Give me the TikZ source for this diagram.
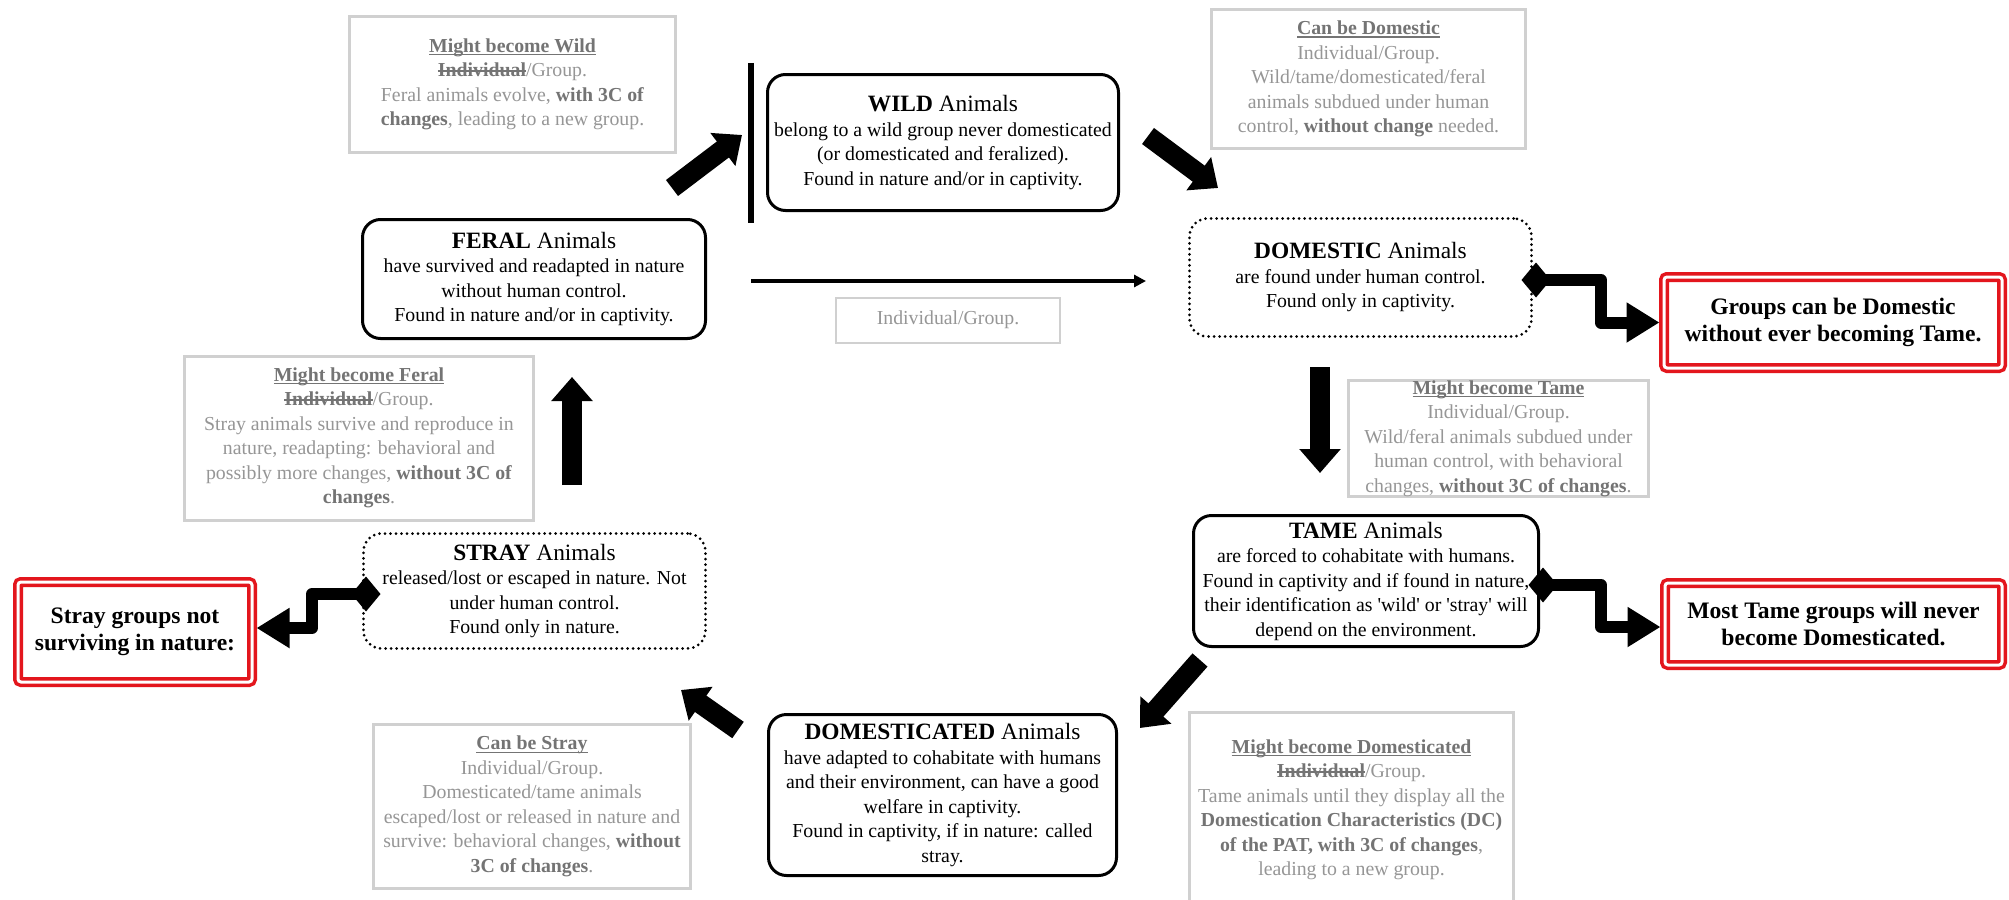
\documentclass[tikz,border=0pt]{standalone}
\usepackage{fontspec}
\setmainfont{Liberation Serif}
\newfontfamily\plainrm{Liberation Serif}
\usetikzlibrary{arrows.meta,calc}
\definecolor{boxgray}{HTML}{D0D0D0}
\definecolor{txtgray}{HTML}{969696}
\definecolor{gdark}{HTML}{747474}
\definecolor{redc}{HTML}{E3161D}
\newcommand{\bodyfs}{\fontsize{19.8}{24.5}\selectfont}
\newcommand{\headfs}{\fontsize{23.4}{24.5}\selectfont}
\newcommand{\redfs}{\fontsize{23.6}{27}\selectfont\bfseries}
\newsavebox{\markbox}
\newcommand{\myul}[1]{\sbox{\markbox}{#1}\rlap{\rule[-3pt]{\wd\markbox}{1.4pt}}\usebox{\markbox}}
\newcommand{\mystrike}[1]{\sbox{\markbox}{#1}\rlap{\rule[5pt]{\wd\markbox}{1.6pt}}\usebox{\markbox}}
\newcommand{\gbold}[1]{\textcolor{gdark}{\textbf{#1}}}
\newcommand{\ghead}[1]{\textcolor{gdark}{\bfseries\myul{#1}}}
\newcommand{\gstrike}[1]{\textcolor{gdark}{\bfseries\mystrike{#1}}}
\begin{document}
\begin{tikzpicture}[x=1pt,y=-1pt,
  mainbox/.style={draw=black, line width=3pt, rounded corners=18pt, align=center, inner sep=0pt, outer sep=0pt, font=\bodyfs},
  dotbox/.style={mainbox, dash pattern=on 0pt off 5.5pt, line cap=round},
  graybox/.style={draw=boxgray, line width=3pt, align=center, text=txtgray, inner sep=0pt, outer sep=0pt, font=\bodyfs},
  redbox/.style={draw=redc, double=white, double distance=3pt, line width=3.5pt, rounded corners=3pt, align=center, inner sep=0pt, outer sep=0pt, font=\redfs},
  bigarrow/.style={line width=20pt, -{Triangle[length=24pt,width=40pt]}},
  elbow/.style={line width=12pt, line join=round, {Diamond[length=29pt,width=35pt]}-{Triangle[length=33pt,width=38pt]}},
  thinarrow/.style={line width=4pt, -{Triangle[length=12pt,width=12pt]}},
  bar/.style={line width=6pt}
]
\fill[white] (0,0) rectangle (2009,899);
\useasboundingbox (0,0) rectangle (2009,899);

% main boxes
\node[mainbox, minimum width=351pt, minimum height=136pt] (wild) at (943,142.5)
 {{\headfs\textbf{WILD} Animals}\\belong to a wild group never domesticated\\(or domesticated and feralized).\\Found in nature and/or in captivity.};
\node[mainbox, minimum width=343pt, minimum height=119pt] (feral) at (534,279)
 {{\headfs\textbf{FERAL} Animals}\\have survived and readapted in nature\\without human control.\\Found in nature and/or in captivity.};
\node[dotbox, minimum width=342pt, minimum height=118pt] (domestic) at (1360.5,277.5)
 {{\headfs\textbf{DOMESTIC} Animals}\\are found under human control.\\Found only in captivity.};
\node[mainbox, minimum width=345pt, minimum height=131pt] (tame) at (1366,581)
 {{\headfs\textbf{TAME} Animals}\\are forced to cohabitate with humans.\\Found in captivity and if found in nature,\\their identification as {\plainrm 'wild'} or {\plainrm 'stray'} will\\depend on the environment.};
\node[dotbox, minimum width=342pt, minimum height=115pt] (stray) at (534.5,591)
 {{\headfs\textbf{STRAY} Animals}\\released/lost or escaped in nature. Not\\under human control.\\Found only in nature.};
\node[mainbox, minimum width=348pt, minimum height=161pt] (domesticated) at (942.5,795)
 {{\headfs\textbf{DOMESTICATED} Animals}\\have adapted to cohabitate with humans\\and their environment, can have a good\\welfare in captivity.\\Found in captivity, if in nature: called\\stray.};

% gray boxes
\node[graybox, minimum width=326pt, minimum height=136pt] (mw) at (512.5,84.5)
 {\ghead{Might become Wild}\\\gstrike{Individual}/Group.\\Feral animals evolve, \gbold{with 3C of}\\\gbold{changes}, leading to a new group.};
\node[graybox, minimum width=314pt, minimum height=139pt] (cd) at (1368.5,79)
 {\ghead{Can be Domestic}\\Individual/Group.\\Wild/tame/domesticated/feral\\animals subdued under human\\control, \gbold{without change} needed.};
\node[graybox, line width=2pt, minimum width=224pt, minimum height=45pt] (ig) at (948,320)
 {Individual/Group.};
\node[graybox, minimum width=349pt, minimum height=164pt] (mf) at (359,438)
 {\ghead{Might become Feral}\\\gstrike{Individual}/Group.\\Stray animals survive and reproduce in\\nature, readapting: behavioral and\\possibly more changes, \gbold{without 3C of}\\\gbold{changes}.};
\node[graybox, minimum width=300pt, minimum height=114pt] (mt) at (1498.5,438.5)
 {\ghead{Might become Tame}\\Individual/Group.\\Wild/feral animals subdued under\\human control, with behavioral\\changes, \gbold{without 3C of changes}.};
\node[graybox, minimum width=317pt, minimum height=164pt] (cs) at (532,806.5)
 {\ghead{Can be Stray}\\Individual/Group.\\Domesticated/tame animals\\escaped/lost or released in nature and\\survive: behavioral changes, \gbold{without}\\\gbold{3C of changes}.};
\node[graybox, minimum width=324pt, minimum height=196pt] (md) at (1351.5,810)
 {\ghead{Might become Domesticated}\\\gstrike{Individual}/Group.\\Tame animals until they display all the\\\gbold{Domestication Characteristics (DC)}\\\gbold{of the PAT, with 3C of changes},\\leading to a new group.};

% red boxes
\node[redbox, minimum width=338pt, minimum height=91pt] (gr) at (1833,322.5)
 {Groups can be Domestic\\without ever becoming Tame.};
\node[redbox, minimum width=234pt, minimum height=100pt] (sr) at (135,632)
 {Stray groups not\\surviving in nature:};
\node[redbox, minimum width=337pt, minimum height=82pt] (mtr) at (1833.5,624)
 {Most Tame groups will never\\become Domesticated.};

% big arrows
\coordinate (a1s) at (672,188); \coordinate (a1e) at (742,135);
\coordinate (a2s) at (1148,136); \coordinate (a2e) at (1218,188);
\coordinate (a3s) at (1320,367); \coordinate (a3e) at (1320,473);
\coordinate (a4s) at (1200,660); \coordinate (a4e) at (1140,728);
\coordinate (a5s) at (738,730); \coordinate (a5e) at (681,690);
\coordinate (a6s) at (572,485); \coordinate (a6e) at (572,377);
\draw[bigarrow] (a1s) -- (a1e);
\draw[bigarrow] (a2s) -- (a2e);
\draw[bigarrow] (a3s) -- (a3e);
\draw[bigarrow] (a4s) -- (a4e);
\draw[bigarrow] (a5s) -- (a5e);
\draw[bigarrow] (a6s) -- (a6e);

% bar and thin arrow
\coordinate (bart) at (751,63); \coordinate (barb) at (751,223);
\draw[bar] (bart) -- (barb);
\coordinate (hs) at (751,281); \coordinate (he) at (1146,281);
\draw[thinarrow] (hs) -- (he);

% elbow connectors
\draw[elbow] ([xshift=-10pt,yshift=-2.5pt]domestic.east) -| (1601,300) |- ($(gr.west)+(-4.5,0)$);
\draw[elbow] ([xshift=-10pt,yshift=-4pt]tame.east) -| (1601,600) |- ($(mtr.west)+(-4.5,3)$);
\draw[elbow] ([xshift=17pt,yshift=-3pt]stray.west) -| (312,610) |- ($(sr.east)+(4.5,-4)$);
\end{tikzpicture}
\end{document}
